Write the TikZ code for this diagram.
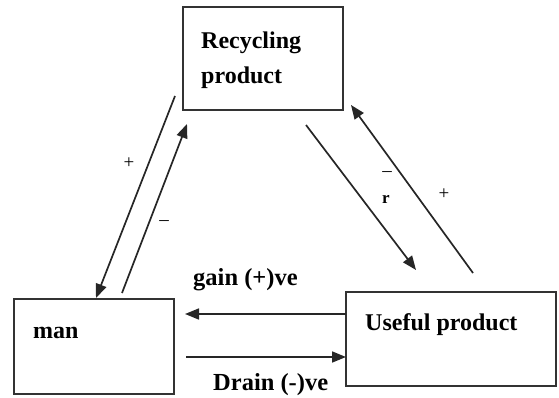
\documentclass[tikz,border=0pt]{standalone}
\usepackage{fontspec}
\setmainfont{Liberation Serif}
\usetikzlibrary{arrows.meta}
\tikzset{boite/.style={draw=black!80,line width=1.4pt,inner sep=0pt},
    titre/.style={font=\bfseries\fontsize{24}{27}\selectfont,inner sep=0pt,anchor=west,align=left},
    fleche/.style={-{Triangle[length=14pt,width=11pt]},line width=1.7pt,black!85},
    signe/.style={font=\fontsize{19}{19}\selectfont,inner sep=0pt}
}

\begin{document}
\begin{tikzpicture}[x=1pt,y=-1pt]
    \useasboundingbox (0,0) rectangle (559,398);

    % Dessine les boites
    \node[boite,minimum width=160,minimum height=103] (rec) at (263,58.5) {};
    \node[boite,minimum width=160,minimum height=95] (man) at (94,346.5) {};
    \node[boite,minimum width=210,minimum height=94] (use) at (451,339) {};

    \node[titre] (rectxt) at (201,60) {Recycling\\[8pt]product};
    \node[titre] (mantxt) at (33,333) {man};
    \node[titre] (usetxt) at (365,325) {Useful product};

    % Extremites des fleches
    \coordinate (a1) at (175,96);
    \coordinate (a2) at (96,298);
    \coordinate (b1) at (122,293);
    \coordinate (b2) at (187,124);
    \coordinate (c1) at (306,125);
    \coordinate (c2) at (416,270);
    \coordinate (d1) at (473,273);
    \coordinate (d2) at (351,105);
    \coordinate (e1) at (346,314);
    \coordinate (e2) at (185,314);
    \coordinate (f1) at (186,357);
    \coordinate (f2) at (346,357);

    % Dessine les fleches
    \draw[fleche] (a1) -- (a2);
    \draw[fleche] (b1) -- (b2);
    \draw[fleche] (c1) -- (c2);
    \draw[fleche] (d1) -- (d2);
    \draw[fleche] (e1) -- (e2);
    \draw[fleche] (f1) -- (f2);

    \node[signe] (p1) at (129,163) {+};
    \node[signe] (m1) at (164,223) {--};
    \node[signe] (m2) at (387,174) {--};
    \node[signe,font=\bfseries\fontsize{17}{17}\selectfont] (r) at (386,199) {r};
    \node[signe] (p2) at (444,194) {+};

    \node[titre,font=\bfseries\fontsize{24.5}{27}\selectfont] (gain) at (193,280) {gain (+)ve};
    \node[titre,font=\bfseries\fontsize{24.5}{27}\selectfont] (drain) at (213,385) {Drain (-)ve};
\end{tikzpicture}
\end{document}
